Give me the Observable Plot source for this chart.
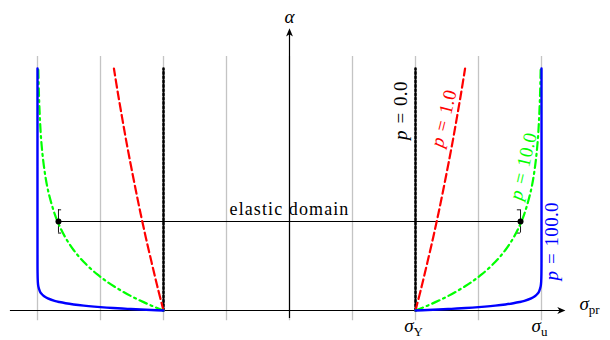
<!DOCTYPE html>
<html>
<head>
<meta charset="utf-8">
<script src="https://cdn.jsdelivr.net/npm/d3@7"></script>
<script src="https://cdn.jsdelivr.net/npm/@observablehq/plot@0.6"></script>
<style>
  html, body { margin: 0; padding: 0; background: #fff; }
  #chart { width: 610px; height: 340px; overflow: hidden; }
</style>
</head>
<body>
<div id="chart"></div>
<script>
// ---- data ----
const gridX = [-4, -3, -2, -1, 0, 1, 2, 3, 4];
const sigmaY = 2;
const sigmaU = 4;

// p = 0 : vertical at sigmaY
const alphaP0 = [0, 0.5];
const sigmaP0 = [2, 2];

// p = 1
const alphaP1 = [0, 0.05, 0.1, 0.15, 0.2, 0.25, 0.3, 0.35, 0.4, 0.45, 0.5];
const sigmaP1 = [2, 2.098, 2.190, 2.279, 2.363, 2.442, 2.518, 2.591, 2.659, 2.725, 2.787];

// p = 10
const alphaP10 = [0, 0.01, 0.02, 0.03, 0.04, 0.05, 0.06, 0.075, 0.1, 0.125, 0.15, 0.175, 0.2, 0.25, 0.3, 0.35, 0.4, 0.45, 0.5];
const sigmaP10 = [2, 2.190, 2.363, 2.518, 2.659, 2.787, 2.902, 3.055, 3.264, 3.427, 3.554, 3.652, 3.729, 3.836, 3.900, 3.940, 3.963, 3.978, 3.987];

// p = 100
const alphaP100 = [0, 0.001, 0.002, 0.003, 0.004, 0.006, 0.008, 0.01, 0.0125, 0.015, 0.0175, 0.02, 0.025, 0.03, 0.035, 0.04, 0.05, 0.06, 0.08, 0.1, 0.5];
const sigmaP100 = [2, 2.190, 2.363, 2.518, 2.659, 2.902, 3.101, 3.264, 3.427, 3.554, 3.652, 3.729, 3.836, 3.900, 3.940, 3.963, 3.987, 3.995, 3.999, 4.0, 4.0];

const pValues = [0, 1, 10, 100];
const pLabels = ["p = 0.0", "p = 1.0", "p = 10.0", "p = 100.0"];
const pColors = ["#000000", "#ff0000", "#00ff00", "#0000ff"];

// elastic domain
const alphaElastic = 0.184;
const sigmaElastic = 3.667;
const elasticLabel = "elastic domain";

// label positions (data coords) for the curve labels
const pLabelSigma = [1.77, 2.45, 3.71, 4.17];
const pLabelAlpha = [0.413, 0.397, 0.298, 0.143];
const pLabelAngle = [-90, -76, -77, -90];

// ---- build tables ----
const series = [
  {p: 0, a: alphaP0, s: sigmaP0},
  {p: 1, a: alphaP1, s: sigmaP1},
  {p: 10, a: alphaP10, s: sigmaP10},
  {p: 100, a: alphaP100, s: sigmaP100}
];
const rows = [];
for (const c of series) {
  for (const side of [1, -1]) {
    c.a.forEach((a, i) => rows.push({p: c.p, key: c.p + "_" + side, alpha: a, sigma: side * c.s[i]}));
  }
}
const byP = p => rows.filter(r => r.p === p);

const styles = {
  0:   {stroke: pColors[0], strokeWidth: 2.6, strokeDasharray: "2,2.3"},
  1:   {stroke: pColors[1], strokeWidth: 2.2, strokeDasharray: "8,4"},
  10:  {stroke: pColors[2], strokeWidth: 2.2, strokeDasharray: "8,4,2,4"},
  100: {stroke: pColors[3], strokeWidth: 2.4}
};

// arrowhead symbols (tip at origin)
const arrowRight = {draw(ctx, size) {
  const L = Math.sqrt(size) * 1.15;
  ctx.moveTo(0, 0); ctx.lineTo(-L, -0.42 * L); ctx.lineTo(-0.72 * L, 0); ctx.lineTo(-L, 0.42 * L); ctx.closePath();
}};
const arrowUp = {draw(ctx, size) {
  const L = Math.sqrt(size) * 1.15;
  ctx.moveTo(0, 0); ctx.lineTo(-0.42 * L, L); ctx.lineTo(0, 0.72 * L); ctx.lineTo(0.42 * L, L); ctx.closePath();
}};

const fontMain = 19;

const chart = Plot.plot({
  width: 610,
  height: 340,
  marginLeft: 5.5,
  marginRight: 6,
  marginTop: 19.6,
  marginBottom: 5.8,
  x: {domain: [-4.5, 5], axis: null},
  y: {domain: [-0.05, 0.6], axis: null},
  style: {fontFamily: "'Liberation Serif', 'DejaVu Serif', serif", background: "#fff"},
  marks: [
    // grid
    Plot.ruleX(gridX, {x: d => d, y1: -0.021, y2: 0.525, stroke: "#c4c4c4", strokeWidth: 1.3}),
    // axes
    Plot.ruleY([0], {x1: -4.43, x2: 4.3, stroke: "#000", strokeWidth: 1.2}),
    Plot.ruleX([0], {y1: -0.0165, y2: 0.57, stroke: "#000", strokeWidth: 1.2}),
    Plot.dot([0], {x: () => 4.38, y: () => 0, symbol: arrowRight, r: 4, fill: "#000", stroke: "none"}),
    Plot.dot([0], {x: () => 0, y: () => 0.583, symbol: arrowUp, r: 4, fill: "#000", stroke: "none"}),
    // elastic domain
    Plot.ruleY([alphaElastic], {y: d => d, x1: -sigmaElastic, x2: sigmaElastic, stroke: "#000", strokeWidth: 1.1}),
    Plot.ruleX([-sigmaElastic, sigmaElastic], {x: d => d, y1: alphaElastic - 0.024, y2: alphaElastic + 0.024, stroke: "#000", strokeWidth: 0.9}),
    Plot.ruleY([alphaElastic - 0.024, alphaElastic + 0.024], {y: d => d, x1: -sigmaElastic, x2: -sigmaElastic + 0.05, stroke: "#000", strokeWidth: 0.9}),
    Plot.ruleY([alphaElastic - 0.024, alphaElastic + 0.024], {y: d => d, x1: sigmaElastic, x2: sigmaElastic - 0.05, stroke: "#000", strokeWidth: 0.9}),
    Plot.text([elasticLabel], {x: () => 0, y: () => 0.2087, text: d => d, fontSize: 18, fill: "#000"}),
    // curves
    ...pValues.map(p => Plot.line(byP(p), {x: "sigma", y: "alpha", z: "key", curve: "catmull-rom", fill: "none", ...styles[p]})),
    Plot.dot([-sigmaElastic, sigmaElastic], {x: d => d, y: () => alphaElastic, r: 3, fill: "#000", stroke: "none"}),
    // curve labels
    ...pValues.map((p, i) => Plot.text([pLabels[i]], {x: () => pLabelSigma[i], y: () => pLabelAlpha[i], text: d => d, rotate: pLabelAngle[i], fill: pColors[i], fontSize: fontMain})),
    // axis labels
    Plot.text(["α"], {x: () => 0, y: () => 0.607, text: d => d, fontSize: fontMain, fill: "#000"}),
    Plot.text(["σ_pr"], {x: () => 4.603, y: () => 0.013, text: d => d, textAnchor: "start", fontSize: fontMain, fill: "#000"}),
    Plot.text(["σ_Y"], {x: () => sigmaY, y: () => -0.031, text: d => d, dx: -2, fontSize: fontMain, fill: "#000"}),
    Plot.text(["σ_u"], {x: () => sigmaU, y: () => -0.031, text: d => d, dx: -2, fontSize: fontMain, fill: "#000"})
  ]
});

// math-style text: italic variables, upright subscripts, wider spacing like LaTeX
d3.select(chart).selectAll("text").each(function() {
  const t = d3.select(this);
  const s = this.textContent;
  if (s.startsWith("p = ")) {
    t.text("");
    t.attr("letter-spacing", "0.3px");
    t.append("tspan").attr("font-style", "italic").text("p");
    t.append("tspan").attr("dx", 1.5).text(" = ");
    t.append("tspan").attr("dx", 1.5).text(s.slice(4));
  } else if (s.startsWith("σ_")) {
    t.text("");
    t.append("tspan").attr("font-style", "italic").text("σ");
    t.append("tspan").attr("font-size", 13).attr("dy", 4).text(s.slice(2));
  } else if (s === "α") {
    t.attr("font-style", "italic");
  } else if (s === "elastic domain") {
    t.attr("letter-spacing", "1.1px");
  }
});

document.getElementById("chart").appendChild(chart);
</script>
</body>
</html>
